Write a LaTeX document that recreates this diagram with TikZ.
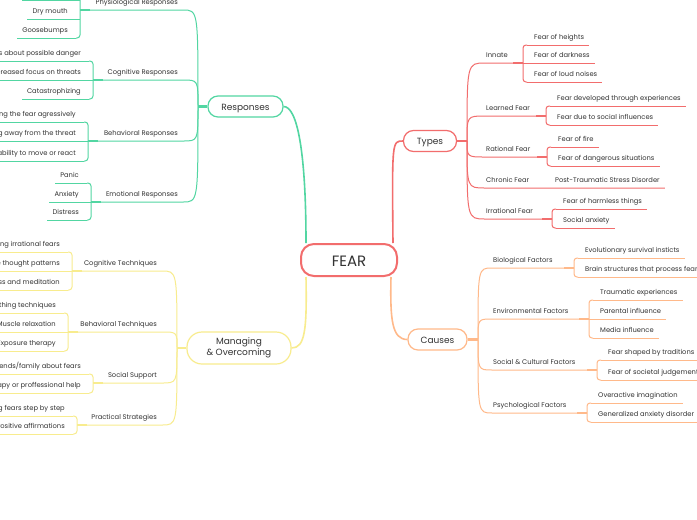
\documentclass[tikz,border=0pt]{standalone}
\usepackage{fontspec}
\setmainfont{Poppins}
\definecolor{cg}{HTML}{52D6A2}
\definecolor{cr}{HTML}{F26D6D}
\definecolor{co}{HTML}{FFB98A}
\definecolor{cy}{HTML}{F8EC8E}
\definecolor{ink}{HTML}{333333}
% right branch: color, stub coord, sx, ex, uy, bx, name, text
\newcommand\mmRB[8]{%
  \node[branch, anchor=base west] (#7) at (#4+1,#5-5.5) {#8};
  \draw[#1, ln] (#2) .. controls (#3,#5) and (#3,#5) .. (#4,#5) -- (#6,#5);
  \draw[#1, stub] (#6-10,#5) -- (#6,#5);}
\newcommand\mmLB[8]{%
  \node[branch, anchor=base east] (#7) at (#4-5,#5-5.5) {#8};
  \draw[#1, ln] (#2) .. controls (#3,#5) and (#3,#5) .. (#4,#5) -- (#6,#5);
  \draw[#1, stub] (#6+10,#5) -- (#6,#5);}
% bracket: color, bx, y1, yn
\newcommand\mmRBk[4]{\draw[#1, ln, rounded corners=3pt] (#2+4,#3) -- (#2,#3) -- (#2,#4) -- (#2+4,#4);}
\newcommand\mmLBk[4]{\draw[#1, ln, rounded corners=3pt] (#2-4,#3) -- (#2,#3) -- (#2,#4) -- (#2-4,#4);}
% leaf: color, name, bx, y, text, start x
\newcommand\mmRL[6]{%
  \node[leaf, anchor=base west] (#2) at (#3+6,#4-5.5) {#5};
  \draw[#1, ln] (#6,#4) -- (#2.east |- 0,#4);}
\newcommand\mmLL[6]{%
  \node[leaf, anchor=base east] (#2) at (#3-7,#4-5.5) {#5};
  \draw[#1, ln] (#6,#4) -- (#2.west |- 0,#4);}
\begin{document}
\begin{tikzpicture}[x=1pt,y=-1pt,
  leaf/.style={font=\fontsize{6.75}{8}\selectfont, text=ink, inner xsep=5pt, inner ysep=0pt},
  branch/.style={font=\fontsize{6.75}{8}\selectfont, text=ink, inner xsep=0pt, inner ysep=0pt},
  mainnode/.style={draw, rounded corners=10pt, fill=white, line width=1.2pt, font=\fontsize{9}{11}\selectfont, text=ink, inner sep=0pt, text height=7.5pt, text depth=0pt},
  ln/.style={line width=1pt},
  mainln/.style={line width=1.6pt},
  stub/.style={line width=2.4pt}]
\useasboundingbox (0,0) rectangle (697,520);
\fill[white] (0,0) rectangle (697,520);
\clip (0,0) rectangle (697,520);

% main nodes
\node[mainnode, draw=cr, line width=2pt, minimum width=96pt, minimum height=32pt, rounded corners=13pt, font=\fontsize{15}{18}\selectfont, text height=12pt] (fear) at (349,260) {FEAR};
\node[mainnode, draw=cr, minimum width=53pt, minimum height=21pt] (types) at (430,141) {Types};
\node[mainnode, draw=co, minimum width=59pt, minimum height=21pt] (causes) at (437.5,339.5) {Causes};
\node[mainnode, draw=cg, minimum width=75pt, minimum height=21pt] (resp) at (245.5,106.5) {Responses};
\node[mainnode, draw=cy, minimum width=104pt, minimum height=32pt, rounded corners=15pt, align=center, text height=, text depth=] (manag) at (239,348) {\raisebox{-2pt}{\parbox{100pt}{\centering Managing\\\& Overcoming}}};

% main connectors
\draw[cr, mainln] ([xshift=-5pt]fear.north east) .. controls (392,141) and (392,141) .. (types.west);
\draw[co, mainln] ([xshift=-7pt]fear.south east) .. controls (390,320) and (392,339.5) .. (causes.west);
\draw[cg, mainln] (resp.east) .. controls (297,106.5) and (306,150) .. ([xshift=6pt]fear.north west);
\draw[cy, mainln] ([xshift=6pt]fear.south west) .. controls (307,330) and (305,348) .. (manag.east);

% stubs
\coordinate (tS) at (467,141);
\coordinate (cS) at (478,339.5);
\coordinate (rS) at (198,106.5);
\coordinate (mS) at (177,348);
\draw[cr, stub] (types.east) -- (tS);
\draw[co, stub] (causes.east) -- (cS);
\draw[cg, stub] (resp.west) -- (rS);
\draw[cy, stub] (manag.west) -- (mS);

% ---- Types
\mmRB{cr}{tS}{467}{485}{63}{523}{innate}{Innate}
\mmRBk{cr}{523}{45}{82}
\mmRL{cr}{t11}{523}{45}{Fear of heights}{527}
\mmRL{cr}{t12}{523}{63}{Fear of darkness}{523}
\mmRL{cr}{t13}{523}{82}{Fear of loud noises}{527}

\mmRB{cr}{tS}{467}{485}{116}{546}{learned}{Learned Fear}
\mmRBk{cr}{546}{106}{125}
\mmRL{cr}{t21}{546}{106}{Fear developed through experiences}{550}
\mmRL{cr}{t22}{546}{125}{Fear due to social influences}{550}

\mmRB{cr}{tS}{467}{485}{157}{547}{rational}{Rational Fear}
\mmRBk{cr}{547}{147}{166}
\mmRL{cr}{t31}{547}{147}{Fear of fire}{551}
\mmRL{cr}{t32}{547}{166}{Fear of dangerous situations}{551}

\node[branch, anchor=base west] (chronic) at (486,182.5) {Chronic Fear};
\node[leaf, anchor=base west] (t41) at (550,182.5) {Post-Traumatic Stress Disorder};
\draw[cr, ln] (tS) .. controls (467,188) and (467,188) .. (485,188) -- (t41.east |- 0,188);

\mmRB{cr}{tS}{467}{485}{219}{552}{irrational}{Irrational Fear}
\mmRBk{cr}{552}{209}{228}
\mmRL{cr}{t51}{552}{209}{Fear of harmless things}{556}
\mmRL{cr}{t52}{552}{228}{Social anxiety}{556}

% ---- Causes
\mmRB{co}{cS}{478}{492}{268}{574}{bio}{Biological Factors}
\mmRBk{co}{574}{258}{277}
\mmRL{co}{c11}{574}{258}{Evolutionary survival insticts}{578}
\mmRL{co}{c12}{574}{277}{Brain structures that process fear}{578}

\mmRB{co}{cS}{478}{492}{319}{589}{env}{Environmental Factors}
\mmRBk{co}{589}{300}{338}
\mmRL{co}{c21}{589}{300}{Traumatic experiences}{593}
\mmRL{co}{c22}{589}{319}{Parental influence}{589}
\mmRL{co}{c23}{589}{338}{Media influence}{593}

\mmRB{co}{cS}{478}{492}{370}{597}{soc}{Social \& Cultural Factors}
\mmRBk{co}{597}{360}{380}
\mmRL{co}{c31}{597}{360}{Fear shaped by traditions}{601}
\mmRL{co}{c32}{597}{380}{Fear of societal judgement}{601}

\mmRB{co}{cS}{478}{492}{413}{587}{psy}{Psychological Factors}
\mmRBk{co}{587}{403}{422}
\mmRL{co}{c41}{587}{403}{Overactive imagination}{591}
\mmRL{co}{c42}{587}{422}{Generalized anxiety disorder}{591}

% ---- Responses
\mmLB{cg}{rS}{198}{183}{10}{80}{phys}{Physiological Responses}
\mmLBk{cg}{80}{-19}{38}
\draw[cg, ln] (80,0.5) -- (22,0.5);
\mmLL{cg}{r13}{80}{19}{Dry mouth}{80}
\mmLL{cg}{r14}{80}{38}{Goosebumps}{76}

\mmLB{cg}{rS}{198}{183}{80}{93}{cogr}{Cognitive Responses}
\mmLBk{cg}{93}{61}{99}
\mmLL{cg}{r21}{93}{61}{Thoughts about possible danger}{89}
\mmLL{cg}{r22}{93}{80}{Increased focus on threats}{93}
\mmLL{cg}{r23}{93}{99}{Catastrophizing}{89}

\mmLB{cg}{rS}{198}{183}{141}{88}{behr}{Behavioral Responses}
\mmLBk{cg}{88}{122}{161}
\mmLL{cg}{r31}{88}{122}{Confronting the fear agressively}{84}
\mmLL{cg}{r32}{88}{141}{Running away from the threat}{88}
\mmLL{cg}{r33}{88}{161}{Inability to  move or react}{84}

\mmLB{cg}{rS}{198}{183}{202}{91}{emor}{Emotional Responses}
\mmLBk{cg}{91}{183}{220}
\mmLL{cg}{r41}{91}{183}{Panic}{87}
\mmLL{cg}{r42}{91}{202}{Anxiety}{91}
\mmLL{cg}{r43}{91}{220}{Distress}{87}

% ---- Managing
\mmLB{cy}{mS}{177}{162}{271}{72}{cogt}{Cognitive Techniques}
\mmLBk{cy}{72}{252}{290}
\mmLL{cy}{m11}{72}{252}{Challenging irrational fears}{68}
\mmLL{cy}{m12}{72}{271}{Restructure thought patterns}{72}
\mmLL{cy}{m13}{72}{290}{Mindfulness and meditation}{68}

\mmLB{cy}{mS}{177}{162}{332}{68}{beht}{Behavioral Techniques}
\mmLBk{cy}{68}{313}{351}
\mmLL{cy}{m21}{68}{313}{Breathing techniques}{64}
\mmLL{cy}{m22}{68}{332}{Muscle relaxation}{68}
\mmLL{cy}{m23}{68}{351}{Exposure therapy}{64}

\mmLB{cy}{mS}{177}{162}{383}{93}{socs}{Social Support}
\mmLBk{cy}{93}{374}{393}
\mmLL{cy}{m31}{93}{374}{Talking to friends/family about fears}{89}
\mmLL{cy}{m32}{93}{393}{Therapy or proffessional help}{89}

\mmLB{cy}{mS}{177}{162}{425}{77}{prac}{Practical Strategies}
\mmLBk{cy}{77}{416}{434}
\mmLL{cy}{m41}{77}{416}{Facing fears step by step}{73}
\mmLL{cy}{m42}{77}{434}{Positive affirmations}{73}
\end{tikzpicture}
\end{document}
